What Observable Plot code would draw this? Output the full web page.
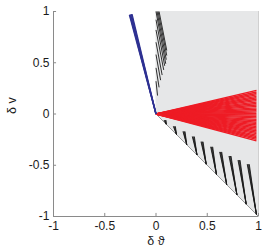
<!DOCTYPE html>
<html>
<head>
<meta charset="utf-8">
<script src="https://cdn.jsdelivr.net/npm/d3@7"></script>
<script src="https://cdn.jsdelivr.net/npm/@observablehq/plot@0.6"></script>
<style>
  html, body { margin: 0; padding: 0; background: #fff; }
  #chart { width: 266px; height: 252px; }
</style>
</head>
<body>
<div id="chart"></div>
<script>
// Tick values
const xTicks = [-1, -0.5, 0, 0.5, 1];
const yTicks = [-1, -0.5, 0, 0.5, 1];

// Shaded admissible region (x from 0 to 1, between lower edge and top)
const regionX = [0, 1];
const regionLow = [0, -1];
const regionHigh = [1, 1];

// Red fan: end points (from origin)
const redEndX = [0.98];
const redEndY = [0.23, 0.215, 0.2, 0.186, 0.172, 0.158, 0.144, 0.13, 0.116, 0.102, 0.088, 0.074,
  0.06, 0.046, 0.032, 0.018, 0.004, -0.01, -0.024, -0.038, -0.052, -0.066, -0.08, -0.094,
  -0.108, -0.122, -0.136, -0.15, -0.164, -0.178, -0.192, -0.206, -0.22, -0.234, -0.248, -0.262];

// Blue narrow fan: end points (from origin)
const blueEndX = [-0.234, -0.241, -0.248, -0.255, -0.26];
const blueEndY = [0.975, 0.973, 0.971, 0.969, 0.967];

// Upper black bundle near the vertical axis
const topStartX = [0.03, 0.02, 0.01, 0.0, 0.0, 0.0, 0.0, 0.0, 0.0, 0.0];
const topStartY = [1.0, 1.0, 1.0, 1.0, 0.92, 0.82, 0.7, 0.58, 0.45, 0.32];
const topEndX = [0.105, 0.105, 0.1, 0.095, 0.085, 0.075, 0.06, 0.045, 0.03, 0.015];
const topEndY = [0.62, 0.57, 0.53, 0.49, 0.47, 0.43, 0.38, 0.33, 0.26, 0.18];

// Lower black streaks ending on the diagonal edge
const streakTopX = [0.088, 0.179, 0.273, 0.364, 0.449, 0.543, 0.631, 0.722, 0.81, 0.9];
const streakTopY = [-0.06, -0.12, -0.17, -0.22, -0.27, -0.32, -0.37, -0.41, -0.45, -0.49];
const streakBottomX = [0.1, 0.2, 0.3, 0.4, 0.49, 0.59, 0.69, 0.79, 0.88, 0.98];
const strandOffset = [-0.01, -0.004, 0.004, 0.01];

// Build tables
const region = regionX.map((x, i) => ({x, lo: regionLow[i], hi: regionHigh[i]}));
const redFan = redEndY.map(y => ({x1: 0, y1: 0, x2: redEndX[0], y2: y}));
const blueFan = blueEndX.map((x, i) => ({x1: 0, y1: 0, x2: x, y2: blueEndY[i]}));
const topBundle = topStartX.map((x, i) => ({x1: x, y1: topStartY[i], x2: topEndX[i], y2: topEndY[i]}));
const streaks = [];
streakTopX.forEach((x, i) => {
  strandOffset.forEach(o => {
    streaks.push({x1: x + o, y1: streakTopY[i], x2: streakBottomX[i], y2: -streakBottomX[i]});
  });
});

const fmt = d => String(d);
const axisGrey = "#8a8a8a";

const chart = Plot.plot({
  width: 266,
  height: 252,
  marginLeft: 53,
  marginRight: 8,
  marginTop: 11,
  marginBottom: 36,
  x: {domain: [-1, 1]},
  y: {domain: [-1, 1]},
  style: {fontFamily: "'Liberation Sans', Arial, sans-serif", fontSize: "12px", color: "#1a1a1a", background: "#fff"},
  marks: [
    Plot.areaY(region, {x: "x", y1: "lo", y2: "hi", fill: "#e6e7e8"}),
    Plot.link(region.slice(0, 1), {x1: 0, y1: 0, x2: 1, y2: -1, stroke: "#999", strokeWidth: 1}),
    Plot.ruleX([1], {y1: -1, y2: 1, stroke: "#d0d0d0", strokeWidth: 1}),
    Plot.link(redFan, {x1: "x1", y1: "y1", x2: "x2", y2: "y2", stroke: "#ee1c25", strokeWidth: 1.4}),
    Plot.link(blueFan, {x1: "x1", y1: "y1", x2: "x2", y2: "y2", stroke: "#2e3192", strokeWidth: 1.3}),
    Plot.link(topBundle, {x1: "x1", y1: "y1", x2: "x2", y2: "y2", stroke: "#1a1a1a", strokeWidth: 0.9}),
    Plot.link(streaks, {x1: "x1", y1: "y1", x2: "x2", y2: "y2", stroke: "#1a1a1a", strokeWidth: 0.9}),
    Plot.ruleX([-1], {y1: -1, y2: 1, stroke: axisGrey}),
    Plot.ruleY([-1], {x1: -1, x2: 1, stroke: axisGrey}),
    Plot.ruleX(xTicks, {y1: -1, y2: -0.97, stroke: axisGrey}),
    Plot.ruleY(yTicks, {x1: -1, x2: -0.97, stroke: axisGrey}),
    Plot.axisX(xTicks, {tickSize: 0, tickPadding: 5, tickFormat: fmt, label: null}),
    Plot.axisY(yTicks, {tickSize: 0, tickPadding: 4, tickFormat: fmt, label: null}),
    Plot.text(["δ ϑ"], {frameAnchor: "bottom", dy: 28, fill: "#1a1a1a", fontSize: 12.5}),
    Plot.text(["δ v"], {frameAnchor: "left", dx: -42, rotate: -90, fill: "#1a1a1a", fontSize: 12.5})
  ]
});
document.getElementById("chart").appendChild(chart);
</script>
</body>
</html>
